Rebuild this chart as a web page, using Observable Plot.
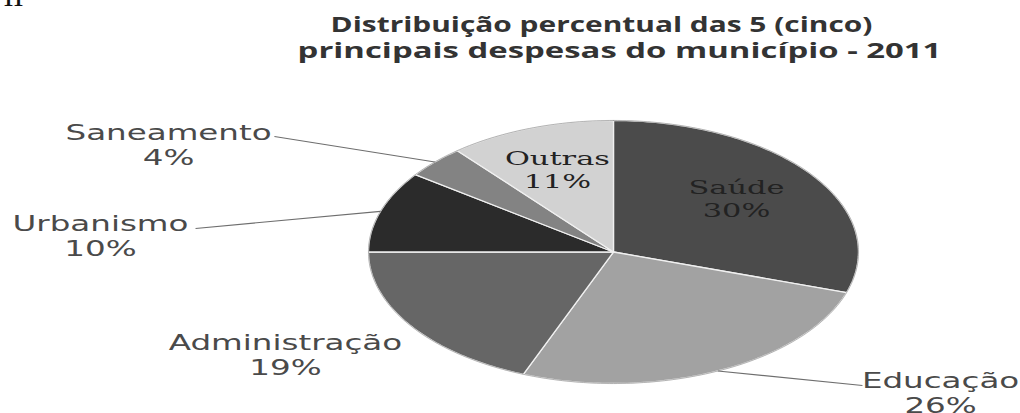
<!DOCTYPE html>
<html><head><meta charset="utf-8">
<script src="https://cdn.jsdelivr.net/npm/d3@7"></script>
<script src="https://cdn.jsdelivr.net/npm/@observablehq/plot@0.6"></script>
<style>body{margin:0;background:#fff;overflow:hidden}</style>
</head><body><div id="chart"></div>
<script>
// ---- data ----
const categories = ["Saúde", "Educação", "Administração", "Urbanismo", "Saneamento", "Outras"];
const values = [30, 26, 19, 10, 4, 11];
const valueLabels = ["30%", "26%", "19%", "10%", "4%", "11%"];
const titleLines = ["Distribuição percentual das 5 (cinco)", "principais despesas do município - 2011"];

// ---- styles / layout (pie units: ellipse radius = 1) ----
const colors = ["#4b4b4b", "#a2a2a2", "#666666", "#2b2b2b", "#838383", "#d2d2d2"];
const labelPos = [[0.502, 0.407], [1.335, -1.072], [-1.339, -0.776], [-2.094, 0.122], [-1.816, 0.821], [-0.229, 0.631]];
const insideLabel = [true, false, false, false, false, true];
const leaderFrom = {"Educação": [1.016, -1.015], "Urbanismo": [-1.706, 0.179], "Saneamento": [-1.384, 0.878]};
const titleWidths = [542, 644];

const arcs = d3.pie().sort(null).value(d => d)(values);
const slices = arcs.map(a => {
  const pts = [{x: 0, y: 0}];
  const n = Math.max(2, Math.ceil((a.endAngle - a.startAngle) / (Math.PI / 180)));
  for (let k = 0; k <= n; k++) {
    const t = a.startAngle + (a.endAngle - a.startAngle) * k / n;
    pts.push({x: Math.sin(t), y: Math.cos(t)});
  }
  pts.push({x: 0, y: 0});
  return pts;
});
const rim = d3.range(0, 361).map(d => ({x: Math.sin(d * Math.PI / 180), y: Math.cos(d * Math.PI / 180)}));

const labels = categories.map((c, i) => ({text: c + "\n" + valueLabels[i], x: labelPos[i][0], y: labelPos[i][1], inside: insideLabel[i]}));
const leaders = categories.map((c, i) => ({c, a: arcs[i]})).filter(d => leaderFrom[d.c]).map(d => {
  const m = (d.a.startAngle + d.a.endAngle) / 2;
  return {x1: leaderFrom[d.c][0], y1: leaderFrom[d.c][1], x2: Math.sin(m), y2: Math.cos(m)};
});

const chart = Plot.plot({
  width: 1020, height: 413, margin: 0,
  x: {domain: [-1, 1], range: [368, 858], axis: null},
  y: {domain: [-1, 1], range: [383, 120], axis: null},
  marks: [
    ...slices.map((pts, i) => Plot.line(pts, {x: "x", y: "y", fill: colors[i], stroke: "#f0f0f0", strokeWidth: 1.3, strokeLinejoin: "round"})),
    Plot.line(rim, {x: "x", y: "y", stroke: "#8a8a8a", strokeWidth: 1, strokeOpacity: 0.6}),
    Plot.link(leaders, {x1: "x1", y1: "y1", x2: "x2", y2: "y2", stroke: "#6e6e6e", strokeWidth: 1.1}),
    Plot.text(labels.filter(d => !d.inside), {x: "x", y: "y", text: "text", fontFamily: "DejaVu Sans", fontSize: 21, lineHeight: 25 / 21, fill: "#4a4a4a"}),
    Plot.text(labels.filter(d => d.inside), {x: "x", y: "y", text: "text", fontFamily: "DejaVu Serif", fontSize: 19, lineHeight: 23 / 19, fill: "#222"}),
    Plot.text([titleLines[0]], {frameAnchor: "top", dx: 91, dy: 17, lineAnchor: "top", fontFamily: "Open Sans", fontWeight: "bold", fontSize: 21, fill: "#333"}),
    Plot.text([titleLines[1]], {frameAnchor: "top", dx: 109, dy: 43, lineAnchor: "top", fontFamily: "Open Sans", fontWeight: "bold", fontSize: 21, fill: "#333"}),
    Plot.text(["II"], {frameAnchor: "top-left", dx: 3, dy: -16, lineAnchor: "top", textAnchor: "start", fontFamily: "Liberation Serif", fontSize: 30, fill: "#111"})
  ]
});
document.getElementById("chart").appendChild(chart);

// horizontal stretch of the scanned-looking text
d3.select(chart).selectAll("text").each(function() {
  const content = this.textContent;
  let s = null;
  const ti = titleLines.indexOf(content);
  const b = this.getBBox();
  if (ti >= 0) s = titleWidths[ti] / b.width;
  else {
    const ci = categories.findIndex(c => content.startsWith(c));
    if (ci >= 0) s = insideLabel[ci] ? 1.6 : 1.55;
  }
  if (!s) return;
  const cx = b.x + b.width / 2;
  const t = this.getAttribute("transform") || "";
  this.setAttribute("transform", `${t} translate(${cx},0) scale(${s},1) translate(${-cx},0)`);
});
</script>
</body></html>
